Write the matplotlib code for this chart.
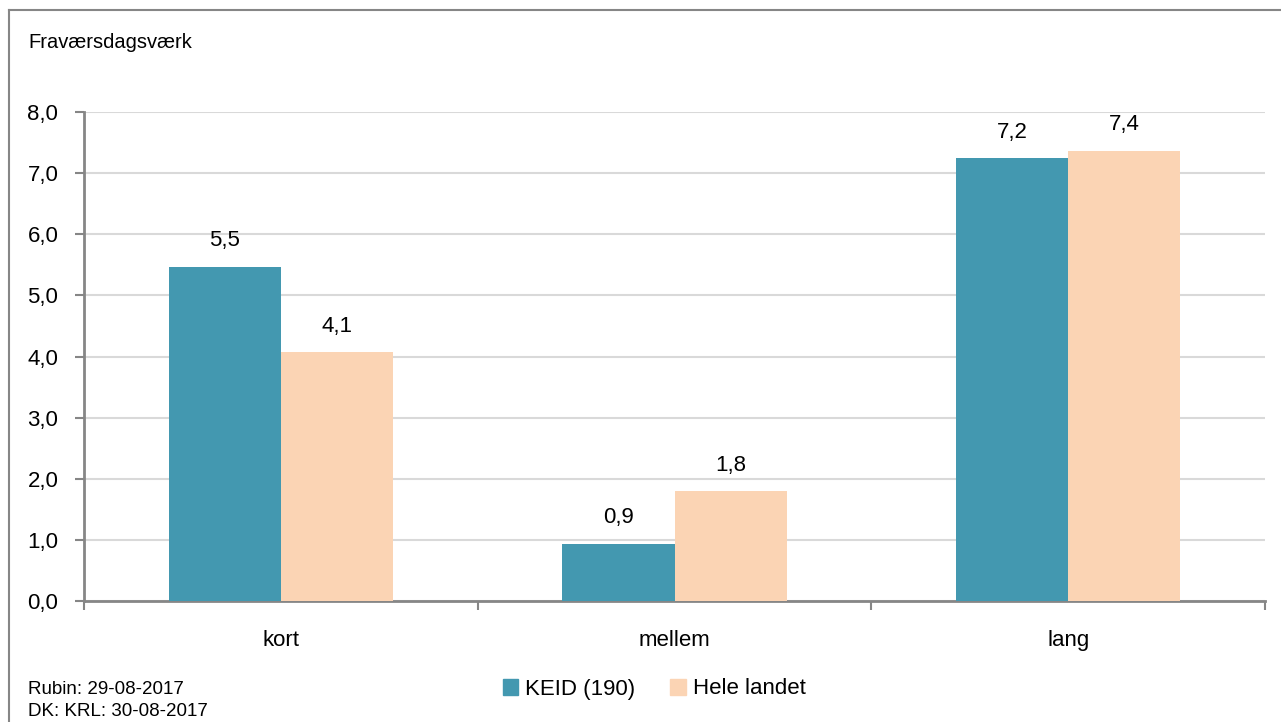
import matplotlib
matplotlib.use("Agg")
import matplotlib.pyplot as plt
from matplotlib.lines import Line2D
from matplotlib.patches import Patch

plt.rcParams["font.family"] = ["Liberation Sans", "DejaVu Sans"]

# Data ...
categories = ["kort", "mellem", "lang"]
keid = [5.47, 0.94, 7.24]
hele = [4.07, 1.80, 7.37]
series_names = ["KEID (190)", "Hele landet"]
yticks = [0, 1, 2, 3, 4, 5, 6, 7, 8]

c_keid = "#4398b0"
c_hele = "#fbd4b4"
c_axis = "#868686"
c_grid = "#d9d9d9"

W, H = 1281, 722
fg = plt.figure(figsize=(W / 100, H / 100), dpi=100)

# Outer frame (left and top visible) ...
fg.add_artist(Line2D([9 / W, 9 / W], [0, 1 - 10 / H], color=c_axis, lw=1.5, transform=fg.transFigure))
fg.add_artist(Line2D([9 / W, 1], [1 - 10 / H, 1 - 10 / H], color=c_axis, lw=1.5, transform=fg.transFigure))

ax = fg.add_axes([84 / W, 1 - 601 / H, (1265 - 84) / W, (601 - 112) / H])

x = list(range(len(categories)))
bw = 0.285
ax.bar([i - bw / 2 for i in x], keid, width=bw, color=c_keid, zorder=3)
ax.bar([i + bw / 2 for i in x], hele, width=bw, color=c_hele, zorder=3)

for i in x:
    ax.text(i - bw / 2, keid[i] + 0.25, f"{keid[i]:.1f}".replace(".", ","),
            ha="center", va="bottom", fontsize=16)
    ax.text(i + bw / 2, hele[i] + 0.25, f"{hele[i]:.1f}".replace(".", ","),
            ha="center", va="bottom", fontsize=16)

ax.set_xlim(-0.5, len(categories) - 0.5)
ax.set_ylim(0, 8)
ax.set_yticks(yticks)
ax.set_yticklabels([f"{v:.1f}".replace(".", ",") for v in yticks], fontsize=16)
ax.yaxis.grid(True, color=c_grid, lw=1.5, zorder=0)
ax.set_axisbelow(True)

ax.set_xticks(x)
ax.set_xticklabels(categories, fontsize=16)
ax.tick_params(axis="x", which="major", length=0, pad=21)
ax.set_xticks([i - 0.5 for i in range(len(categories) + 1)], minor=True)
ax.tick_params(axis="x", which="minor", length=6.5, color=c_axis, width=1.5)
ax.tick_params(axis="y", length=6.5, color=c_axis, width=1.5, pad=12)

for s in ["top", "right"]:
    ax.spines[s].set_visible(False)
for s in ["left", "bottom"]:
    ax.spines[s].set_color(c_axis)
    ax.spines[s].set_linewidth(2)

fg.text(28 / W, 1 - 42 / H, "Fraværsdagsværk", fontsize=14.5, va="center", ha="left")
fg.text(28 / W, 1 - 689 / H, "Rubin: 29-08-2017", fontsize=13.5, va="center", ha="left")
fg.text(28 / W, 1 - 711 / H, "DK: KRL: 30-08-2017", fontsize=13.5, va="center", ha="left")

handles = [Patch(color=c_keid), Patch(color=c_hele)]
fg.legend(handles, series_names, loc="center", bbox_to_anchor=(654 / W, 1 - 689 / H),
          ncol=2, frameon=False, fontsize=16, handlelength=0.7, handleheight=0.7,
          handletextpad=0.3, columnspacing=1.6)

fg.savefig("out.png", dpi=100)
plt.close(fg)
